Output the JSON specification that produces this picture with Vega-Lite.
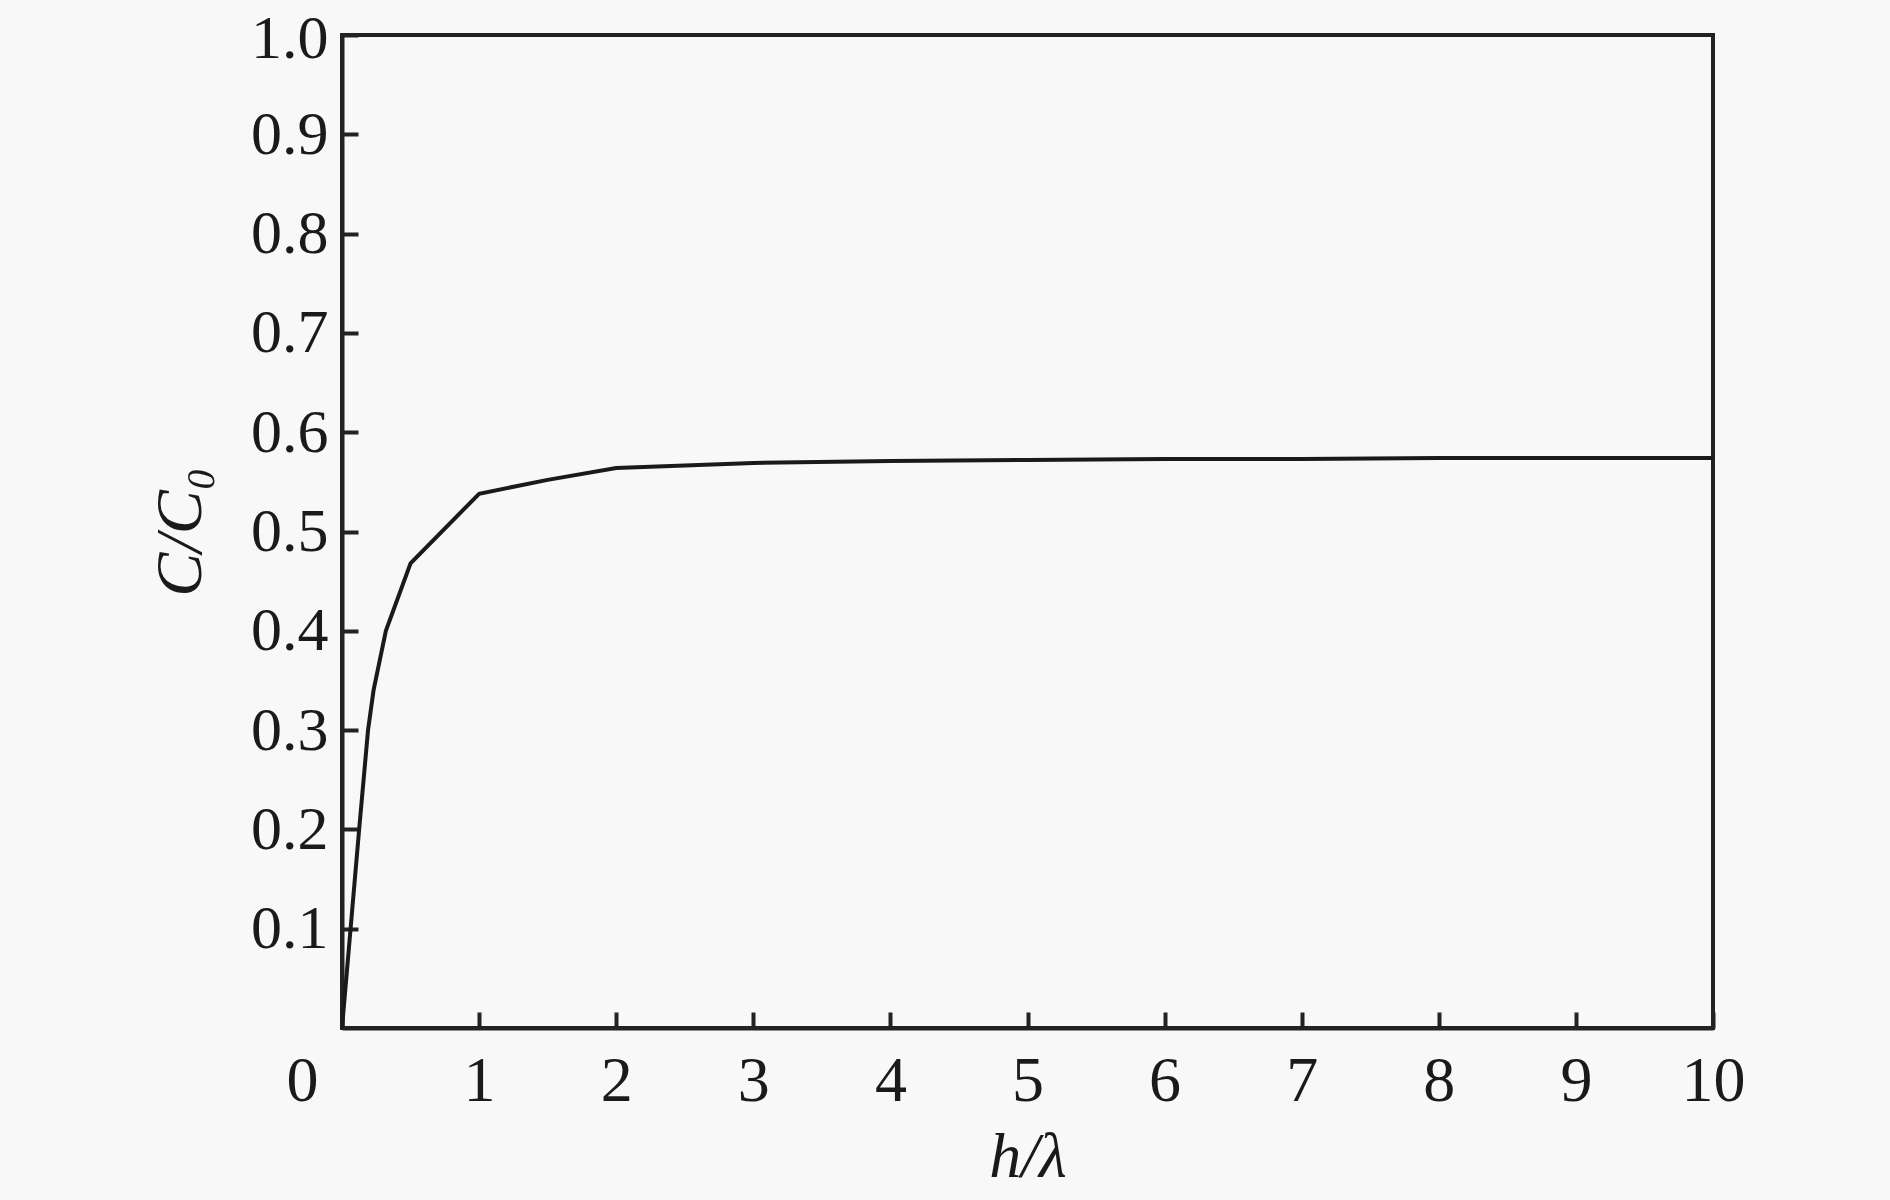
{
  "$schema": "https://vega.github.io/schema/vega-lite/v6.json",
  "autosize": {"type": "none"},
  "padding": {"left": 342, "top": 35, "right": 177, "bottom": 172},
  "width": 1371,
  "height": 993,
  "background": "#f8f8f8",
  "config": {
    "view": {"stroke": "#222222", "strokeWidth": 4},
    "font": "Liberation Serif"
  },
  "data": {
    "values": [
      {"h": 0, "c": 0.0},
      {"h": 0.125, "c": 0.2},
      {"h": 0.19, "c": 0.3},
      {"h": 0.23, "c": 0.34},
      {"h": 0.32, "c": 0.4},
      {"h": 0.5, "c": 0.468},
      {"h": 1, "c": 0.538},
      {"h": 1.5, "c": 0.552},
      {"h": 2, "c": 0.564},
      {"h": 3, "c": 0.569},
      {"h": 4, "c": 0.571},
      {"h": 5, "c": 0.572},
      {"h": 6, "c": 0.573},
      {"h": 7, "c": 0.573},
      {"h": 8, "c": 0.574},
      {"h": 9, "c": 0.574},
      {"h": 10, "c": 0.574}
    ]
  },
  "mark": {"type": "line", "color": "#1a1a1a", "strokeWidth": 4},
  "encoding": {
    "x": {
      "field": "h",
      "type": "quantitative",
      "scale": {"domain": [0, 10], "nice": false, "zero": false},
      "axis": {
        "title": "h/λ",
        "titleFont": "Liberation Serif",
        "titleFontStyle": "italic",
        "titleFontWeight": "normal",
        "titleFontSize": 64,
        "titleColor": "#1a1a1a",
        "titlePadding": 12,
        "values": [0, 1, 2, 3, 4, 5, 6, 7, 8, 9, 10],
        "format": "d",
        "labelFont": "Liberation Serif",
        "labelFontSize": 64,
        "labelColor": "#1a1a1a",
        "labelPadding": 37,
        "labelOffset": {"condition": {"test": "datum.value == 0", "value": -40}, "value": 0},
        "tickSize": -16,
        "tickWidth": 4,
        "tickColor": "#222222",
        "domainColor": "#222222",
        "domainWidth": 4,
        "grid": false,
        "labelFlush": false,
        "labelOverlap": false
      }
    },
    "y": {
      "field": "c",
      "type": "quantitative",
      "scale": {"domain": [0, 1], "nice": false},
      "axis": {
        "title": "C/C₀",
        "titleFont": "Liberation Serif",
        "titleFontStyle": "italic",
        "titleFontWeight": "normal",
        "titleFontSize": 66,
        "titleColor": "#1a1a1a",
        "titlePadding": 36,
        "values": [0.1, 0.2, 0.3, 0.4, 0.5, 0.6, 0.7, 0.8, 0.9, 1.0],
        "format": ".1f",
        "labelFont": "Liberation Serif",
        "labelFontSize": 62,
        "labelColor": "#1a1a1a",
        "labelPadding": 30,
        "labelOffset": {"condition": {"test": "datum.value == 1", "value": 3}, "value": 0},
        "tickSize": -16,
        "tickWidth": 4,
        "tickColor": "#222222",
        "domainColor": "#222222",
        "domainWidth": 4,
        "grid": false,
        "labelFlush": false,
        "labelOverlap": false
      }
    }
  }
}
